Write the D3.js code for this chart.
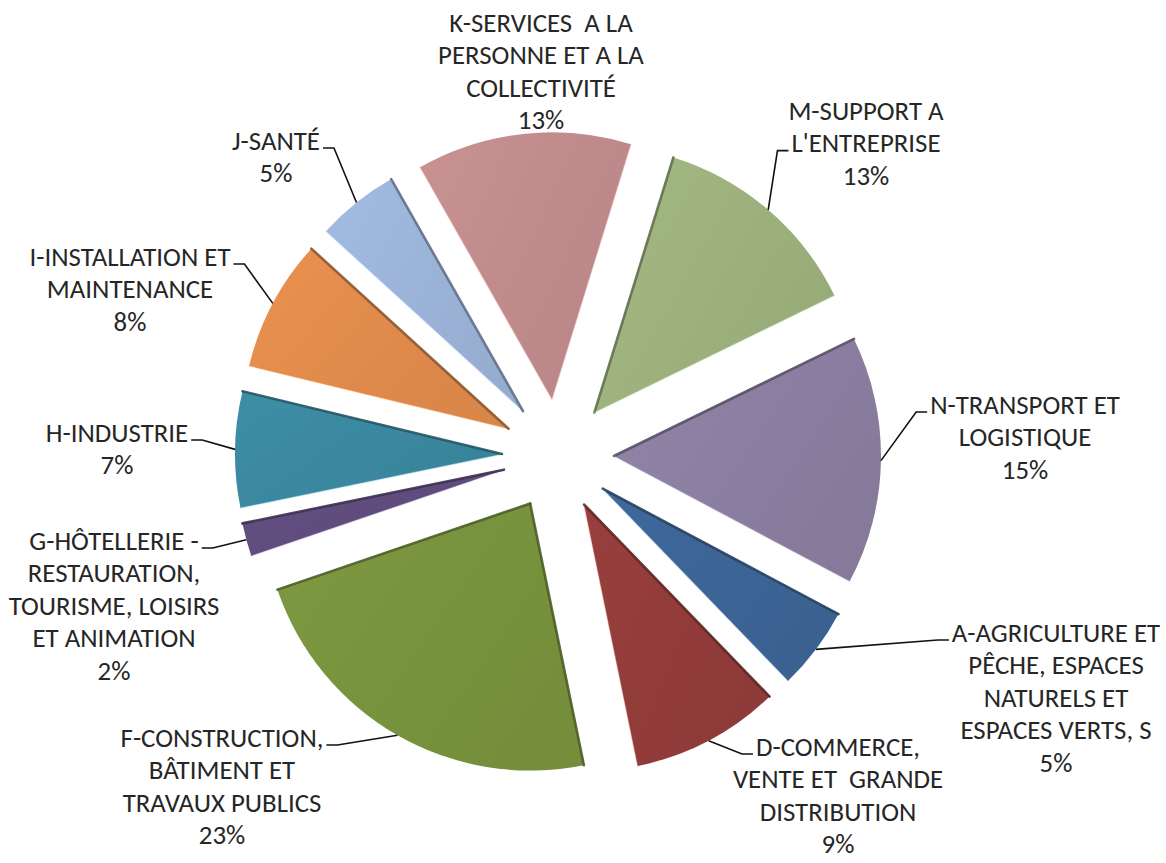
<!DOCTYPE html>
<html>
<head>
<meta charset="utf-8">
<script src="https://cdn.jsdelivr.net/npm/d3@7/dist/d3.min.js"></script>
<style>
  html, body { margin: 0; padding: 0; background: #ffffff; }
  svg { display: block; }
  text { white-space: pre; }
</style>
</head>
<body>
<svg id="chart" width="1166" height="863"></svg>
<script>
// ---------------- DATA ----------------
const categories = [
  "A-AGRICULTURE ET PÊCHE, ESPACES NATURELS ET ESPACES VERTS, S",
  "D-COMMERCE, VENTE ET  GRANDE DISTRIBUTION",
  "F-CONSTRUCTION, BÂTIMENT ET TRAVAUX PUBLICS",
  "G-HÔTELLERIE - RESTAURATION, TOURISME, LOISIRS ET ANIMATION",
  "H-INDUSTRIE",
  "I-INSTALLATION ET MAINTENANCE",
  "J-SANTÉ",
  "K-SERVICES  A LA PERSONNE ET A LA COLLECTIVITÉ",
  "M-SUPPORT A L'ENTREPRISE",
  "N-TRANSPORT ET LOGISTIQUE"
];
const categoryLines = [
  ["A-AGRICULTURE ET", "PÊCHE, ESPACES", "NATURELS ET", "ESPACES VERTS, S"],
  ["D-COMMERCE,", "VENTE ET  GRANDE", "DISTRIBUTION"],
  ["F-CONSTRUCTION,", "BÂTIMENT ET", "TRAVAUX PUBLICS"],
  ["G-HÔTELLERIE -", "RESTAURATION,", "TOURISME, LOISIRS", "ET ANIMATION"],
  ["H-INDUSTRIE"],
  ["I-INSTALLATION ET", "MAINTENANCE"],
  ["J-SANTÉ"],
  ["K-SERVICES  A LA", "PERSONNE ET A LA", "COLLECTIVITÉ"],
  ["M-SUPPORT A", "L'ENTREPRISE"],
  ["N-TRANSPORT ET", "LOGISTIQUE"]
];
const values = [5, 9, 23, 2, 7, 8, 5, 13, 13, 15];

// ---------------- STYLE / LAYOUT ----------------
const colors = ["#3c6494", "#913c3a", "#77923d", "#604b7d", "#3a879e",
                "#df8a4b", "#9ab2d6", "#bf8a8b", "#9bb07c", "#8a7ea0"];
const W = 1166, H = 863;
const center = { x: 558, y: 455 };
const R = 267;
const explode = 56;
const startDeg = 118;
const lineGap = 32.6;
const targetRefWidth = 201; // width of the "I-INSTALLATION ET" line in the reference
// label block placement relative to the pie centre: dx = block centre, dy = first line centre
const labelLayout = [
  { dx: 498,  dy: 177,  side: "left",  line: 0 },
  { dx: 280,  dy: 291,  side: "left",  line: 0 },
  { dx: -336, dy: 282,  side: "right", line: 0 },
  { dx: -444, dy: 85,   side: "right", line: 0 },
  { dx: -441, dy: -23,  side: "right", line: 0 },
  { dx: -428, dy: -199, side: "right", line: 0 },
  { dx: -282, dy: -315, side: "right", line: 0 },
  { dx: -17,  dy: -433, side: null,    line: 0 },
  { dx: 308,  dy: -345, side: "left",  line: 1 },
  { dx: 467,  dy: -51,  side: "left",  line: 0 }
];

const fontFamily = "Carlito, Lato, 'Liberation Sans', sans-serif";

const svg = d3.select("#chart");
const defs = svg.append("defs");

// font sizing: measure the reference line once
const probe = svg.append("text").attr("font-family", fontFamily).attr("font-size", 100).text("I-INSTALLATION ET");
const probeW = probe.node().getComputedTextLength();
probe.remove();
const fontSize = 100 * targetRefWidth / probeW;

const data = categories.map((c, i) => ({ name: c, lines: categoryLines[i], value: values[i], color: colors[i], layout: labelLayout[i] }));
const total = d3.sum(values);

const start = startDeg * Math.PI / 180;
const pie = d3.pie().sort(null).value(d => d.value).startAngle(start).endAngle(start + 2 * Math.PI);
const arcs = pie(data);
const arcGen = d3.arc().innerRadius(0).outerRadius(R);
const pt = (a, r) => [r * Math.sin(a), -r * Math.cos(a)];

const g = svg.append("g").attr("transform", `translate(${center.x},${center.y})`);

arcs.forEach((a, i) => {
  const grad = defs.append("linearGradient").attr("id", "grad" + i)
    .attr("x1", 0).attr("y1", 0).attr("x2", 1).attr("y2", 0.6);
  const base = d3.color(a.data.color);
  grad.append("stop").attr("offset", 0).attr("stop-color", base.brighter(0.14).formatHex());
  grad.append("stop").attr("offset", 1).attr("stop-color", base.darker(0.08).formatHex());
});

const slices = g.selectAll("g.slice").data(arcs).enter().append("g")
  .attr("class", "slice")
  .attr("transform", d => {
    const mid = (d.startAngle + d.endAngle) / 2;
    const [x, y] = pt(mid, explode);
    return `translate(${x},${y})`;
  });

slices.append("path")
  .attr("d", arcGen)
  .attr("fill", (d, i) => `url(#grad${i})`);

// bevel-like edge shading: edges facing up get a dark line, edges facing down a faint light line
slices.each(function(d) {
  const sel = d3.select(this);
  const base = d3.color(d.data.color);
  const edges = [
    { a: d.startAngle, up: Math.sin(d.startAngle) > 0 },
    { a: d.endAngle,   up: Math.sin(d.endAngle) < 0 }
  ];
  edges.forEach(e => {
    const [x, y] = pt(e.a, R);
    sel.append("line")
      .attr("x1", 0).attr("y1", 0).attr("x2", x).attr("y2", y)
      .attr("stroke", e.up ? base.darker(1.3).formatHex() : base.brighter(0.5).formatHex())
      .attr("stroke-width", e.up ? 2.6 : 1.4)
      .attr("stroke-opacity", e.up ? 0.9 : 0.35)
      .attr("stroke-linecap", "round");
  });
});

// ---------------- LABELS ----------------
const labels = svg.append("g")
  .attr("font-family", fontFamily)
  .attr("font-size", fontSize)
  .attr("fill", "#262626");

arcs.forEach(a => {
  const L = a.data.layout;
  const bx = center.x + L.dx, by = center.y + L.dy;
  const pct = Math.round(a.data.value / total * 100) + "%";
  const allLines = a.data.lines.concat([pct]);
  const t = labels.append("g");
  const nodes = allLines.map((s, k) =>
    t.append("text")
      .attr("x", bx)
      .attr("y", by + k * lineGap)
      .attr("text-anchor", "middle")
      .attr("dominant-baseline", "central")
      .text(s));
  if (L.side) {
    const ln = nodes[L.line].node();
    const w = ln.getComputedTextLength();
    const ly = by + L.line * lineGap + fontSize * 0.3;
    const edgeX = L.side === "left" ? bx - w / 2 - 3 : bx + w / 2 + 3;
    const elbowX = L.side === "left" ? edgeX - 11 : edgeX + 11;
    const mid = (a.startAngle + a.endAngle) / 2;
    const off = pt(mid, explode);
    const tip = pt(mid, R);
    const px = center.x + off[0] + tip[0], py = center.y + off[1] + tip[1];
    svg.append("path")
      .attr("d", d3.line()([[edgeX, ly], [elbowX, ly], [px, py]]))
      .attr("fill", "none")
      .attr("stroke", "#111")
      .attr("stroke-width", 1.6);
  }
});
</script>
</body>
</html>
